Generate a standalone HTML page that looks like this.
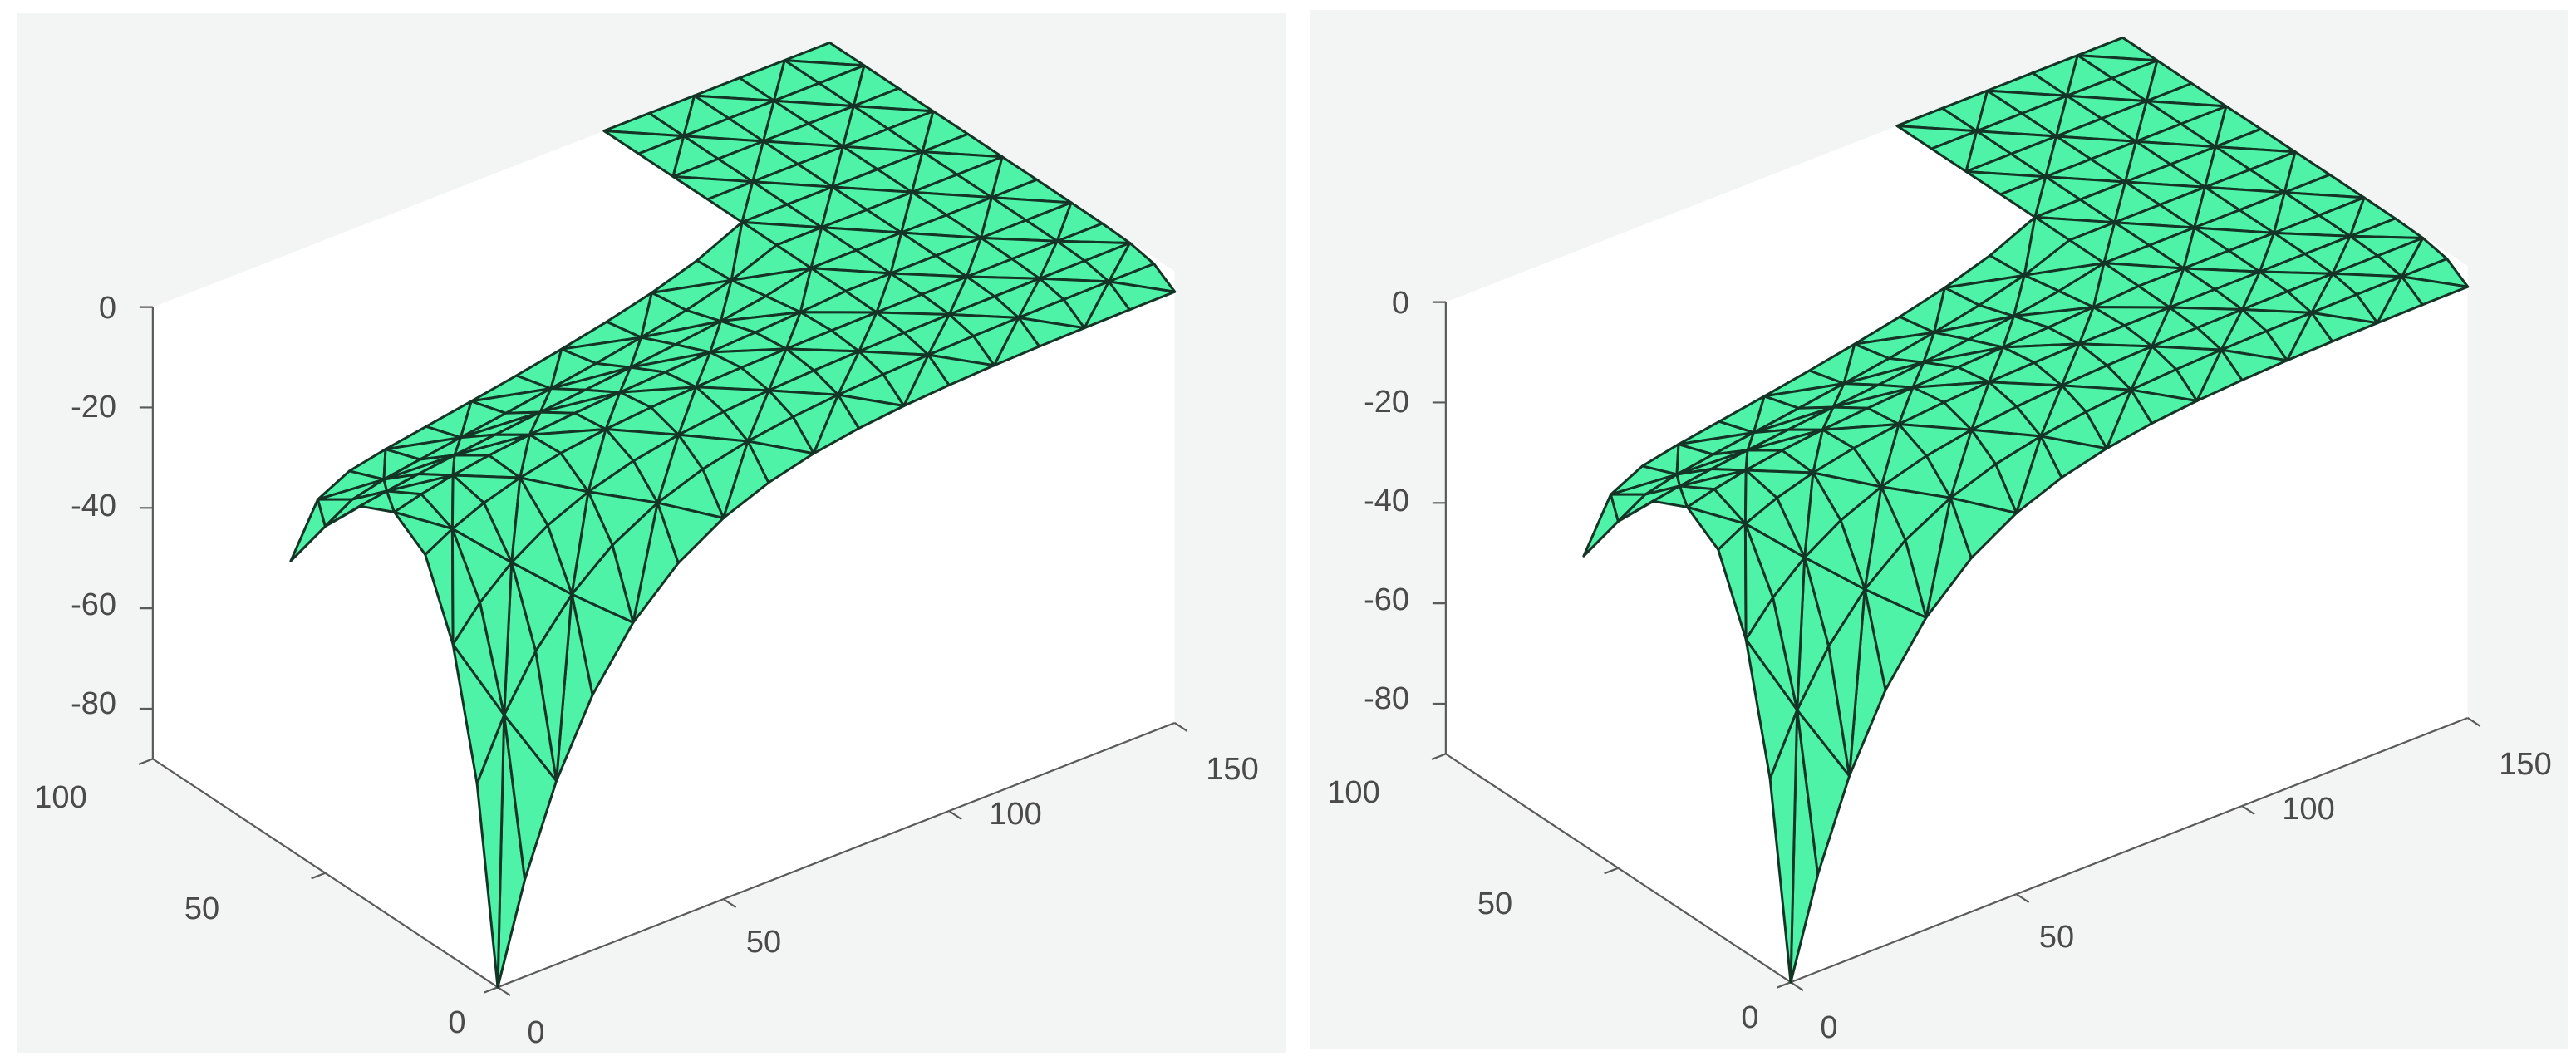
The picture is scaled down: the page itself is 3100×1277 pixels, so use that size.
<!DOCTYPE html>
<html><head><meta charset="utf-8"><style>
html,body{margin:0;padding:0;background:#fff;width:3100px;height:1277px;overflow:hidden}
svg{display:block}
text{font-family:"Liberation Sans",sans-serif;font-size:38px;fill:#4a4a4a}
</style></head><body>
<svg id="s" width="3100" height="1277" viewBox="0 0 3100 1277" xmlns="http://www.w3.org/2000/svg">
<rect x="0" y="0" width="3100" height="1277" fill="#ffffff"/>
<rect x="20" y="16" width="1527" height="1251" fill="#f2f5f4"/>
<rect x="1577" y="12" width="1513" height="1251" fill="#f2f5f4"/>
<g id="p1"></g>
<g id="p2"></g>
<g id="labels1">
<text x="140" y="383" text-anchor="end">0</text>
<text x="140" y="502" text-anchor="end">-20</text>
<text x="140" y="621" text-anchor="end">-40</text>
<text x="140" y="740" text-anchor="end">-60</text>
<text x="140" y="859" text-anchor="end">-80</text>
<text x="73" y="972" text-anchor="middle">100</text>
<text x="243" y="1106" text-anchor="middle">50</text>
<text x="550" y="1243" text-anchor="middle">0</text>
<text x="645" y="1255" text-anchor="middle">0</text>
<text x="919" y="1146" text-anchor="middle">50</text>
<text x="1222" y="992" text-anchor="middle">100</text>
<text x="1483" y="938" text-anchor="middle">150</text>
</g>
<g id="labels2" transform="translate(1556,-6)">
<text x="140" y="383" text-anchor="end">0</text>
<text x="140" y="502" text-anchor="end">-20</text>
<text x="140" y="621" text-anchor="end">-40</text>
<text x="140" y="740" text-anchor="end">-60</text>
<text x="140" y="859" text-anchor="end">-80</text>
<text x="73" y="972" text-anchor="middle">100</text>
<text x="243" y="1106" text-anchor="middle">50</text>
<text x="550" y="1243" text-anchor="middle">0</text>
<text x="645" y="1255" text-anchor="middle">0</text>
<text x="919" y="1146" text-anchor="middle">50</text>
<text x="1222" y="992" text-anchor="middle">100</text>
<text x="1483" y="938" text-anchor="middle">150</text>
</g>
</svg>
<script>
(function(){
var NS="http://www.w3.org/2000/svg",S=1.977;
function P(x,y,z){return [(303+2.747*x-2.1*y)*S,(601-1.073*x-1.39*y-(z+90)*3.056)*S];}
function sm(t){t=Math.max(0,Math.min(1,t));return t*t*(3-2*t);}
function Z(x,y){
 var z=-90*Math.exp(-x/23-y/11);
 z+=-20*Math.pow(Math.max(0,1-x/97),0.6)*sm((y-20)/40)*(x<100?1:0);
 z+=-12*Math.exp(-x/4)*sm((y-45)/15);
 z+=-4*Math.exp(-y/5)*(1-Math.exp(-x/15));
 return Math.min(0,z);
}
function el(t,a,p){var e=document.createElementNS(NS,t);for(var k in a)e.setAttribute(k,a[k]);p.appendChild(e);return e;}
function pt(a){return a[0].toFixed(1)+","+a[1].toFixed(1);}
function build(g,XS,YS){
 var hex=[[93,187],[505,26],[715,165],[715,440],[303,601],[93,462]].map(function(p){return (p[0]*S).toFixed(1)+","+(p[1]*S).toFixed(1);}).join(" ");
 el("polygon",{points:hex,fill:"#ffffff"},g);
 function L(a,b){el("line",{x1:a[0],y1:a[1],x2:b[0],y2:b[1],stroke:"#5a5a5a","stroke-width":"2.2"},g);}
 var F=P(0,100,-90),E=P(0,0,-90),D=P(150,0,-90),A=P(0,100,0);
 L(A,F);L(F,E);L(E,D);
 for(var i=0;i<5;i++){var q=P(0,100,-20*i);L(q,[q[0]-16,q[1]]);}
 var ux=[2.747,-1.073],n=Math.hypot(ux[0],ux[1]);
 [0,50,100].forEach(function(v){var q=P(0,v,-90);L(q,[q[0]-ux[0]/n*18,q[1]-ux[1]/n*18]);});
 var uy=[2.1,1.39],m=Math.hypot(uy[0],uy[1]);
 [0,50,100,150].forEach(function(v){var q=P(v,0,-90);L(q,[q[0]+uy[0]/m*18,q[1]+uy[1]/m*18]);});
 var tris=[];
 for(var i=0;i<XS.length-1;i++)for(var j=0;j<YS.length-1;j++){
  var x0=XS[i],x1=XS[i+1],y0=YS[j],y1=YS[j+1];
  var cx=(x0+x1)/2,cy=(y0+y1)/2;
  if(!(cx>=100||cy<=60))continue;
  var a=[x0,y0],b=[x1,y0],c=[x1,y1],d=[x0,y1];
  if((i+j)%2==0){tris.push([a,b,c]);tris.push([a,c,d]);}
  else{tris.push([a,b,d]);tris.push([b,c,d]);}
 }
 var T=tris.map(function(t){
  var zs=t.map(function(p){return Z(p[0],p[1]);});
  var cx=(t[0][0]+t[1][0]+t[2][0])/3,cy=(t[0][1]+t[1][1]+t[2][1])/3,cz=(zs[0]+zs[1]+zs[2])/3;
  return {p:t.map(function(p,k){return P(p[0],p[1],zs[k]);}),d:210*cx/150+412*cy/100-2.2*cz};
 });
 T.sort(function(a,b){return b.d-a.d;});
 T.forEach(function(t){
  el("polygon",{points:t.p.map(pt).join(" "),fill:"#4ff3a8",stroke:"#143526","stroke-width":"3","stroke-linejoin":"round"},g);
 });
}
var XS=[0,6,13,21,30,40,50,60,70,80,90,100,110,120,130,140,150];
var YS=[0,6,13,21,30,40,50,60,70,80,90,100];
build(document.getElementById("p1"),XS,YS);
var g2=document.getElementById("p2");g2.setAttribute("transform","translate(1556,-6)");
build(g2,XS,YS);
})();
</script>
</body></html>
